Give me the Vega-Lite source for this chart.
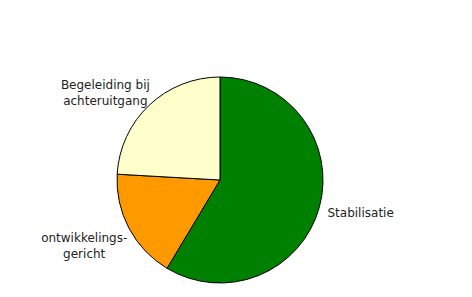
{
  "$schema": "https://vega.github.io/schema/vega-lite/v6.json",
  "width": 440,
  "height": 234,
  "autosize": "none",
  "padding": {"left": 0, "top": 63, "right": 32, "bottom": 0},
  "background": "white",
  "config": {"view": {"stroke": null}},
  "data": {"values": [
    {"cat": "Stabilisatie", "label": "Stabilisatie", "value": 58.6, "idx": 1},
    {"cat": "ontwikkelingsgericht", "label": "ontwikkelings-\ngericht", "value": 17.3, "idx": 2},
    {"cat": "Begeleiding bij achteruitgang", "label": "Begeleiding bij\nachteruitgang", "value": 24.1, "idx": 3}
  ]},
  "encoding": {
    "theta": {"field": "value", "type": "quantitative", "stack": true},
    "order": {"field": "idx", "type": "quantitative"}
  },
  "layer": [
    {
      "mark": {"type": "arc", "outerRadius": 103, "stroke": "black", "strokeWidth": 1},
      "encoding": {
        "color": {"field": "cat", "type": "nominal",
          "scale": {"domain": ["Stabilisatie", "ontwikkelingsgericht", "Begeleiding bij achteruitgang"],
                    "range": ["#008000", "#FF9900", "#FFFFCC"]},
          "legend": null}
      }
    },
    {
      "mark": {"type": "text", "radius": 148, "font": "DejaVu Sans", "fontSize": 12, "fill": "#222222", "align": "center", "baseline": "middle", "dx": -2, "dy": -7},
      "encoding": {"text": {"condition": {"test": "datum.idx == 1", "field": "label"}, "value": ""}}
    },
    {
      "mark": {"type": "text", "radius": 148, "font": "DejaVu Sans", "fontSize": 12, "fill": "#222222", "align": "center", "baseline": "middle", "lineBreak": "\n", "lineHeight": 16, "dx": -5, "dy": -11},
      "encoding": {"text": {"condition": {"test": "datum.idx == 2", "field": "label"}, "value": ""}}
    },
    {
      "mark": {"type": "text", "radius": 148, "font": "DejaVu Sans", "fontSize": 12, "fill": "#222222", "align": "center", "baseline": "middle", "lineBreak": "\n", "lineHeight": 16, "dx": -13, "dy": 13},
      "encoding": {"text": {"condition": {"test": "datum.idx == 3", "field": "label"}, "value": ""}}
    }
  ]
}
